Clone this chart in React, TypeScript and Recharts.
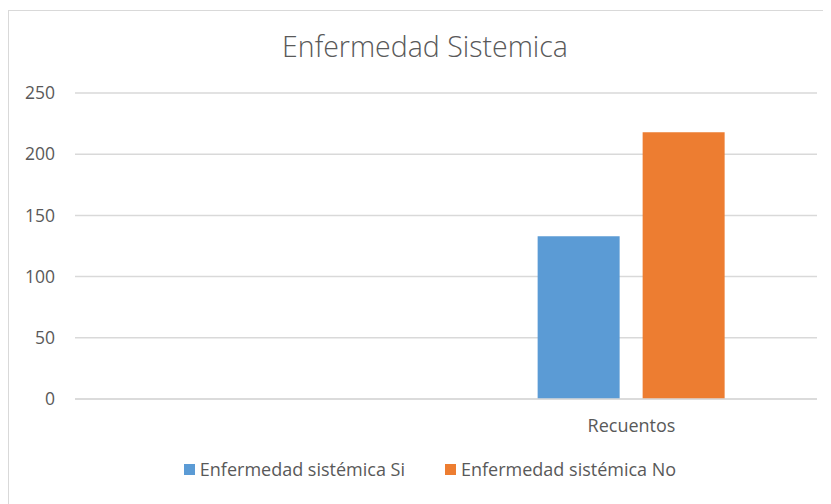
import { BarChart, Bar, XAxis, YAxis, CartesianGrid, Legend } from 'recharts';

const categories = ['', 'Recuentos'];
const siValues = [0, 133];
const noValues = [0, 218];
const yTicks = [0, 50, 100, 150, 200, 250];

const seriesNames = ['Enfermedad sistémica Si', 'Enfermedad sistémica No'];
const colors = ['#5b9bd5', '#ed7d31'];

const data = categories.map((name, i) => ({
  name,
  si: siValues[i] || null,
  no: noValues[i] || null,
}));

const font = '"Open Sans", sans-serif';

const renderLegend = () => (
  <div style={{ display: 'flex', justifyContent: 'center', gap: 40, fontFamily: font, fontSize: 18, color: '#595959' }}>
    {seriesNames.map((n, i) => (
      <div key={n} style={{ display: 'flex', alignItems: 'center' }}>
        <span style={{ width: 11, height: 11, backgroundColor: colors[i], marginRight: 5, display: 'inline-block' }}></span>
        <span>{n}</span>
      </div>
    ))}
  </div>
);

export default function App() {
  return (
    <div
      style={{
        position: 'relative',
        marginTop: 2,
        width: 823,
        height: 494,
        boxSizing: 'border-box',
        borderTop: '1px solid #d9d9d9',
        borderLeft: '1px solid #d9d9d9',
        background: '#fff',
        overflow: 'hidden',
      }}
    >
      <div
        style={{
          position: 'absolute',
          left: 0,
          top: 16,
          width: 832,
          textAlign: 'center',
          fontFamily: font,
          fontWeight: 300,
          fontSize: 28.5,
          color: '#595959',
        }}
      >
        Enfermedad Sistemica
      </div>
      <BarChart
        width={822}
        height={493}
        data={data}
        margin={{ top: 82, right: 14, left: 0, bottom: 41 }}
        barCategoryGap="24.7%"
        barGap={23}
      >
        <CartesianGrid vertical={false} stroke="#d9d9d9" strokeWidth={1.5} />
        <YAxis
          width={66}
          domain={[0, 250]}
          ticks={yTicks}
          axisLine={false}
          tickLine={false}
          tickMargin={14}
          tick={{ fill: '#595959', fontSize: 17.5, fontFamily: font }}
        />
        <XAxis
          dataKey="name"
          height={40}
          axisLine={{ stroke: '#d9d9d9', strokeWidth: 1.5 }}
          tickLine={false}
          tickMargin={14}
          tick={{ fill: '#595959', fontSize: 18, fontFamily: font }}
        />
        <Legend
          verticalAlign="bottom"
          content={renderLegend}
          wrapperStyle={{ top: 446, left: 17, width: 808 }}
        />
        <Bar dataKey="si" name={seriesNames[0]} fill={colors[0]} isAnimationActive={false} />
        <Bar dataKey="no" name={seriesNames[1]} fill={colors[1]} isAnimationActive={false} />
      </BarChart>
    </div>
  );
}
